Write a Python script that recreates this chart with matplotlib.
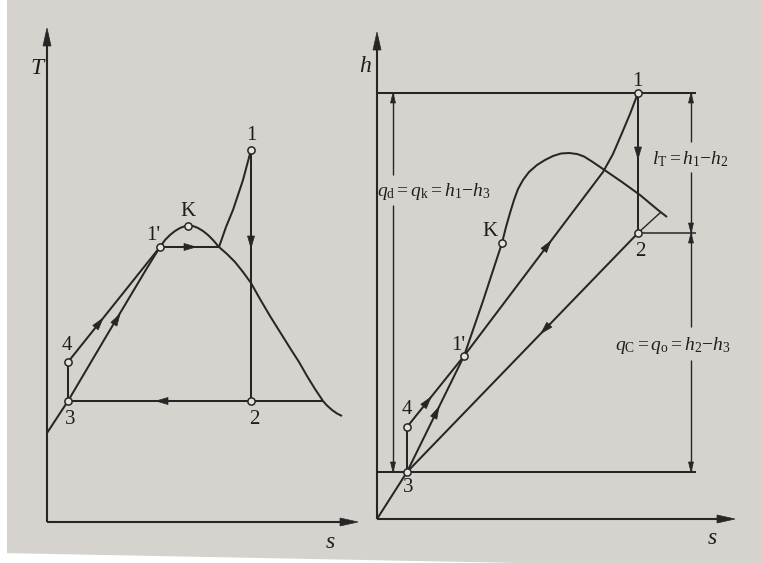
import matplotlib
matplotlib.use("Agg")
import matplotlib.pyplot as plt
from matplotlib.patches import Polygon, Rectangle
import numpy as np

# ============================================================================
# Estilo: folha de livro fotografada (fundo cinza claro, traço escuro, serifa)
# ============================================================================
plt.rcParams["font.family"] = ["Liberation Serif", "DejaVu Serif"]
plt.rcParams["mathtext.fontset"] = "custom"
plt.rcParams["mathtext.rm"] = "Liberation Serif"
plt.rcParams["mathtext.it"] = "Liberation Serif:italic"
plt.rcParams["mathtext.bf"] = "Liberation Serif:bold"

COR_PAPEL = "#d6d3ce"
COR_TINTA = "#262626"
LW = 1.45

# ============================================================================
# Dados (unidades do diagrama: 1 unidade = 1 px)
# ============================================================================

# --- Diagrama T-s ---
TS_DOMO_S = [0, 21, 60, 100, 113, 118, 123, 128, 133, 137, 141, 146, 151, 156,
             161, 166, 172, 180, 188, 196, 204, 213, 223, 233, 243, 252, 260,
             268, 272, 276, 280, 285, 290, 295]
TS_DOMO_T = [89, 121, 187, 254, 275, 282, 287, 291, 294, 295.5, 296, 296, 294,
             291, 287, 282, 275, 268, 260, 250, 239, 223, 206, 190, 174, 160,
             146, 133, 127, 121, 116.5, 112, 108.5, 106]
TS_SUPER_S = [172, 179, 186, 191, 196, 200, 204]
TS_SUPER_T = [275, 295, 312, 327, 342, 357, 372]

TS_PONTOS = ["1", "2", "3", "4", "1'", "K"]
TS_PONTOS_S = [204, 204, 21, 21, 113, 141]
TS_PONTOS_T = [372, 121, 121, 160, 275, 296]
TS_S_EVAP_FIM = 172     # 1' -> encontro com a curva de vapor saturado
TS_S_COND_FIM = 276     # linha 2-3 prolongada até a curva
TS_EIXO_T = 494
TS_EIXO_S = 311

# --- Diagrama h-s ---
HS_DOMO_S = [0, 30, 58, 87, 106, 125, 129, 133, 137, 141, 146, 152, 160, 168,
             176, 184, 192, 200, 207, 215, 226, 245, 263, 281, 290]
HS_DOMO_H = [0, 47, 104, 163, 218, 276, 292, 306, 319, 330, 339, 347, 354, 359,
             363, 365.5, 366, 365, 362.5, 357.5, 350, 337, 324, 309, 302]
HS_SUPER_S = [87, 226, 236, 245, 253, 261]
HS_SUPER_H = [163, 347, 365, 386, 405, 426]

HS_PONTOS = ["1", "2", "3", "4", "1'", "K"]
HS_PONTOS_S = [261, 261, 30, 30, 87, 125]
HS_PONTOS_H = [426, 286, 47, 92, 163, 276]
HS_ENCONTRO_2 = (284, 307)   # traço curto de 2 até a curva
HS_S_LINHAS = 319            # fim das linhas horizontais de h1, h2, h3
HS_S_COTA_ESQ = 16
HS_S_COTA_DIR = 314
HS_EIXO_H = 487
HS_EIXO_S = 358

ROTULO_QD = r"$q_{\mathrm{d}}{=}q_{\mathrm{k}}{=}h_1{-}h_3$"
ROTULO_LT = r"$l_{\mathrm{T}}{=}h_1{-}h_2$"
ROTULO_QC = r"$q_{\mathrm{C}}{=}q_{\mathrm{o}}{=}h_2{-}h_3$"


# ============================================================================
# Auxiliares
# ============================================================================

def linha(ax, xs, ys, lw=LW):
    ax.plot(xs, ys, color=COR_TINTA, lw=lw, solid_capstyle="butt",
            solid_joinstyle="round", clip_on=False, zorder=2)


def seta(ax, ponta, direcao, comp=12, larg=7):
    """Ponta de seta triangular cheia com vértice em 'ponta'."""
    p = np.array(ponta, float)
    d = np.array(direcao, float)
    d /= np.linalg.norm(d)
    n = np.array([-d[1], d[0]])
    base = p - d * comp
    verts = [p, base + n * larg / 2, base - n * larg / 2]
    ax.add_patch(Polygon(verts, closed=True, facecolor=COR_TINTA,
                         edgecolor=COR_TINTA, lw=0.5, clip_on=False, zorder=3))


def pontos(ax, xs, ys):
    ax.plot(xs, ys, "o", ms=5.2, mfc="#e6e3de", mec=COR_TINTA, mew=1.1,
            clip_on=False, zorder=4)


def texto(ax, x, y, s, size=15, style="normal"):
    ax.text(x, y, s, fontsize=size, style=style, color="#1e1e1e",
            ha="center", va="center", zorder=5)


def eixos(ax, topo, direita):
    linha(ax, [0, 0], [0, topo - 8], lw=1.5)
    linha(ax, [0, direita - 8], [0, 0], lw=1.5)
    seta(ax, (0, topo), (0, 1), comp=18, larg=8)
    seta(ax, (direita, 0), (1, 0), comp=18, larg=8)


def cota(ax, s, baixo, cima, lacuna):
    g0, g1 = lacuna
    linha(ax, [s, s], [baixo, g0], lw=1.0)
    linha(ax, [s, s], [g1, cima], lw=1.0)
    seta(ax, (s, cima), (0, 1), comp=10, larg=5)
    seta(ax, (s, baixo), (0, -1), comp=10, larg=5)


def na_reta(p0, p1, x):
    """Ordenada da reta p0-p1 na abscissa x."""
    return p0[1] + (x - p0[0]) * (p1[1] - p0[1]) / (p1[0] - p0[0])


# ============================================================================
# Figura
# ============================================================================
W, H = 761, 563
fig = plt.figure(figsize=(W / 100, H / 100), dpi=100, facecolor=COR_PAPEL)

# margem branca da foto
fig.patches.append(Rectangle((0, 0), 7 / W, 1, transform=fig.transFigure,
                             facecolor="white", edgecolor="none", zorder=0))
fig.patches.append(Polygon([(0, 0), (0, 10 / H), (520 / W, 0)], closed=True,
                           transform=fig.transFigure, facecolor="white",
                           edgecolor="none", zorder=0))

# ---------------------------------------------------------------- T-s ------
ax1 = fig.add_axes([0, 0, 380 / W, 1])
ax1.set_xlim(-47, 333)
ax1.set_ylim(-41, 522)
ax1.axis("off")

eixos(ax1, TS_EIXO_T, TS_EIXO_S)
linha(ax1, TS_DOMO_S, TS_DOMO_T)
linha(ax1, TS_SUPER_S, TS_SUPER_T)

p = dict(zip(TS_PONTOS, zip(TS_PONTOS_S, TS_PONTOS_T)))
linha(ax1, [p["3"][0], p["4"][0]], [p["3"][1], p["4"][1]])
linha(ax1, [p["4"][0], p["1'"][0]], [p["4"][1], p["1'"][1]])
linha(ax1, [p["1'"][0], TS_S_EVAP_FIM], [p["1'"][1], p["1'"][1]])
linha(ax1, [p["1"][0], p["2"][0]], [p["1"][1], p["2"][1]])
linha(ax1, [p["3"][0], TS_S_COND_FIM], [p["3"][1], p["3"][1]])

seta(ax1, (56, na_reta(p["4"], p["1'"], 56)),
     (p["1'"][0] - p["4"][0], p["1'"][1] - p["4"][1]))
seta(ax1, (73, na_reta(p["3"], p["1'"], 73)),
     (p["1'"][0] - p["3"][0], p["1'"][1] - p["3"][1]))
seta(ax1, (149, p["1'"][1]), (1, 0))
seta(ax1, (p["1"][0], 274), (0, -1))
seta(ax1, (109, p["3"][1]), (-1, 0))

pontos(ax1, TS_PONTOS_S, TS_PONTOS_T)

texto(ax1, -10, 454, "T", size=17, style="italic")
texto(ax1, 283, -20, "s", size=17, style="italic")
desloc_ts = {"1": (0, 15), "2": (3, -19), "3": (2, -19), "4": (-1, 17),
             "1'": (-7, 12), "K": (0, 14)}
for nome, (s, t) in p.items():
    dx, dy = desloc_ts[nome]
    texto(ax1, s + dx, t + dy, nome)

# ---------------------------------------------------------------- h-s ------
ax2 = fig.add_axes([380 / W, 0, 381 / W, 1])
ax2.set_xlim(3, 384)
ax2.set_ylim(-44, 519)
ax2.axis("off")

eixos(ax2, HS_EIXO_H, HS_EIXO_S)

q = dict(zip(HS_PONTOS, zip(HS_PONTOS_S, HS_PONTOS_H)))
h1, h2, h3 = q["1"][1], q["2"][1], q["3"][1]

linha(ax2, [0, HS_S_LINHAS], [h1, h1])
linha(ax2, [0, HS_S_LINHAS], [h3, h3])
linha(ax2, [q["2"][0], HS_S_LINHAS], [h2, h2], lw=1.1)

linha(ax2, HS_DOMO_S, HS_DOMO_H)
linha(ax2, HS_SUPER_S, HS_SUPER_H)
linha(ax2, [q["3"][0], q["4"][0]], [q["3"][1], q["4"][1]])
linha(ax2, [q["4"][0], q["1'"][0]], [q["4"][1], q["1'"][1]])
linha(ax2, [q["3"][0], q["2"][0]], [q["3"][1], q["2"][1]])
linha(ax2, [q["1"][0], q["2"][0]], [q["1"][1], q["2"][1]])
linha(ax2, [q["2"][0], HS_ENCONTRO_2[0]], [q["2"][1], HS_ENCONTRO_2[1]], lw=1.0)

seta(ax2, (54, na_reta(q["4"], q["1'"], 54)),
     (q["1'"][0] - q["4"][0], q["1'"][1] - q["4"][1]))
seta(ax2, (62, na_reta(q["3"], q["1'"], 62)),
     (q["1'"][0] - q["3"][0], q["1'"][1] - q["3"][1]))
sup0 = (HS_SUPER_S[0], HS_SUPER_H[0])
sup1 = (HS_SUPER_S[1], HS_SUPER_H[1])
seta(ax2, (174, na_reta(sup0, sup1, 174)),
     (sup1[0] - sup0[0], sup1[1] - sup0[1]))
seta(ax2, (164, na_reta(q["3"], q["2"], 164)),
     (q["3"][0] - q["2"][0], q["3"][1] - q["2"][1]))
seta(ax2, (q["1"][0], 360), (0, -1))

# cotas
cota(ax2, HS_S_COTA_ESQ, h3, h1, (314, 344))
cota(ax2, HS_S_COTA_DIR, h2, h1, (347, 377))
cota(ax2, HS_S_COTA_DIR, h3, h2, (159, 192))

texto(ax2, 57, 328, ROTULO_QD, size=14)
texto(ax2, 313, 360, ROTULO_LT, size=14)
texto(ax2, 296, 174, ROTULO_QC, size=14)

pontos(ax2, HS_PONTOS_S, HS_PONTOS_H)

texto(ax2, -12, 452, "h", size=17, style="italic")
texto(ax2, 335, -20, "s", size=17, style="italic")
desloc_hs = {"1": (-1, 12), "2": (2, -19), "3": (1, -16), "4": (0, 18),
             "1'": (-6, 11), "K": (-12, 11)}
for nome, (s, h) in q.items():
    dx, dy = desloc_hs[nome]
    texto(ax2, s + dx, h + dy, nome)

plt.savefig("out.png", dpi=100, facecolor=COR_PAPEL)
plt.close()
